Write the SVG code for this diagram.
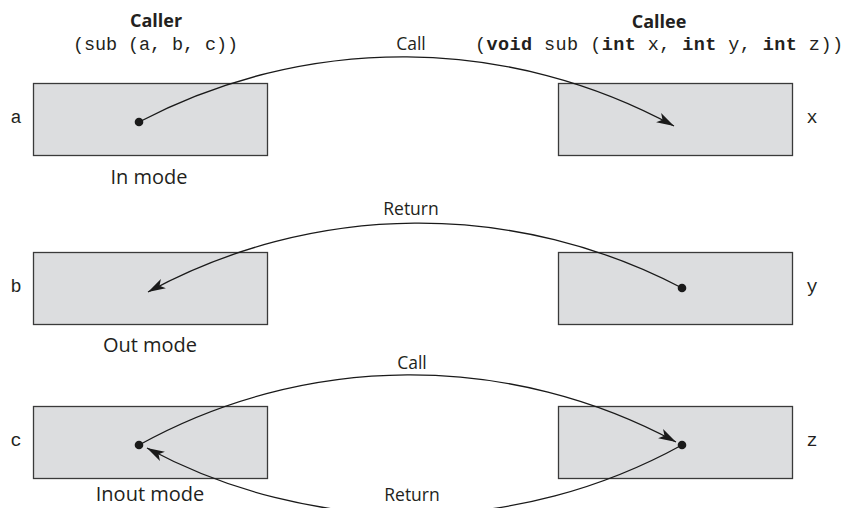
<svg xmlns="http://www.w3.org/2000/svg" width="857" height="508" viewBox="0 0 857 508">
<style>
.box{fill:#dcdddf;stroke:#3a3a3a;stroke-width:1.3}
.dot{fill:#1a1a1a}
.head{font-family:"Open Sans","Noto Sans",sans-serif;font-weight:bold;font-size:18px;fill:#231f20;text-anchor:middle}
.mono{font-family:"Liberation Mono","Courier New",monospace;font-size:18.5px;fill:#231f20}
.lbl{font-family:"Open Sans","Noto Sans",sans-serif;font-size:17.5px;fill:#231f20;text-anchor:middle}
.mode{font-family:"Open Sans","Noto Sans",sans-serif;font-size:20px;fill:#231f20;text-anchor:middle}
.arc{fill:none;stroke:#1a1a1a;stroke-width:1.3}
</style>
<defs>
<marker id="ah" markerUnits="userSpaceOnUse" markerWidth="20" markerHeight="20" viewBox="-15 -6 16 12" refX="0" refY="0" orient="auto">
<path d="M0,0 L-14,-4.2 L-10.5,0 L-14,4.2 Z" fill="#1a1a1a"/>
</marker>
</defs>
<rect width="857" height="508" fill="#ffffff"/>
<g id="headers">
<text class="head" x="156" y="27">Caller</text>
<text class="mono" x="73" y="50" textLength="165" lengthAdjust="spacing">(sub (a, b, c))</text>
<text class="head" x="659" y="28">Callee</text>
<text class="mono" x="475" y="50" font-size="19" textLength="368" lengthAdjust="spacing">(<tspan font-weight="bold">void</tspan> sub (<tspan font-weight="bold">int</tspan> x, <tspan font-weight="bold">int</tspan> y, <tspan font-weight="bold">int</tspan> z))</text>
</g>
<g id="node-a">
<rect class="box" x="33.5" y="83.5" width="234" height="72"/>
<text class="mono" x="16" y="123" text-anchor="middle">a</text>
<circle class="dot" cx="139" cy="122" r="4.3"/>
</g>
<g id="node-x">
<rect class="box" x="558.5" y="83.5" width="234" height="72"/>
<text class="mono" x="812" y="123" text-anchor="middle">x</text>
</g>
<g id="node-b">
<rect class="box" x="33.5" y="252.5" width="234" height="72"/>
<text class="mono" x="16" y="292" text-anchor="middle">b</text>
</g>
<g id="node-y">
<rect class="box" x="558.5" y="252.5" width="234" height="72"/>
<text class="mono" x="812" y="292" text-anchor="middle">y</text>
<circle class="dot" cx="682" cy="288" r="4.3"/>
</g>
<g id="node-c">
<rect class="box" x="33.5" y="406.5" width="234" height="72"/>
<text class="mono" x="16" y="446" text-anchor="middle">c</text>
<circle class="dot" cx="139" cy="445" r="4.3"/>
</g>
<g id="node-z">
<rect class="box" x="558.5" y="406.5" width="234" height="72"/>
<text class="mono" x="812" y="446" text-anchor="middle">z</text>
<circle class="dot" cx="682" cy="445" r="4.3"/>
</g>
<g id="modes">
<text class="mode" x="149" y="184">In mode</text>
<text class="mode" x="150" y="352">Out mode</text>
<text class="mode" x="150" y="501">Inout mode</text>
</g>
<g id="connectors">
<path class="arc" d="M139,122 A567,567 0 0 1 674,126" marker-end="url(#ah)"/>
<text class="lbl" x="411" y="50">Call</text>
<path class="arc" d="M682,288 A567,567 0 0 0 148,292" marker-end="url(#ah)"/>
<text class="lbl" x="411" y="215">Return</text>
<path class="arc" d="M139,445 A560,560 0 0 1 676,442" marker-end="url(#ah)"/>
<text class="lbl" x="412" y="369">Call</text>
<path class="arc" d="M682,445 A560,560 0 0 1 147,448" marker-end="url(#ah)"/>
<text class="lbl" x="412" y="501">Return</text>
</g>
</svg>
